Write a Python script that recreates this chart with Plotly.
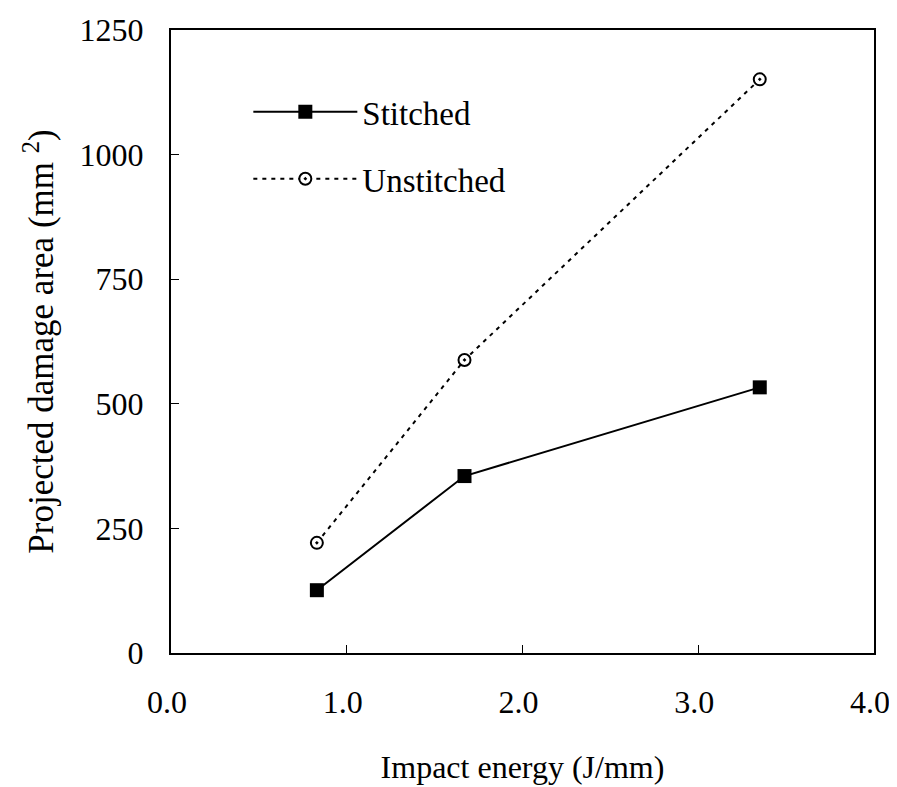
import plotly.graph_objects as go

energy = [0.83, 1.67, 3.35]
stitched = [126, 355, 533]
unstitched = [221, 588, 1151]
x_ticks = [0, 1, 2, 3, 4]
x_tick_labels = ["0.0", "1.0", "2.0", "3.0", "4.0"]
y_ticks = [0, 250, 500, 750, 1000, 1250]

FONT = "Liberation Serif"
FS = 32

fig = go.Figure()
fig.add_trace(go.Scatter(
    x=energy, y=stitched, name="Stitched", mode="lines+markers",
    line=dict(color="black", width=2),
    marker=dict(symbol="square", size=14, color="black"),
    legendgroup="a",
))
fig.add_trace(go.Scatter(
    x=energy, y=unstitched, name="Unstitched", mode="lines+markers",
    line=dict(color="black", width=2, dash="4px,5px"),
    marker=dict(symbol="circle-dot", size=12, color="white",
                line=dict(color="black", width=2)),
    legendgroup="b",
))

fig.update_layout(
    width=889, height=779,
    margin=dict(l=163, r=23, t=22, b=134, autoexpand=False),
    paper_bgcolor="white", plot_bgcolor="white",
    font=dict(family=FONT, size=FS, color="black"),
    showlegend=True,
    legend=dict(x=0.11, y=0.9136, xanchor="left", yanchor="top",
                bgcolor="rgba(0,0,0,0)", font=dict(family=FONT, size=33),
                itemwidth=104, tracegroupgap=21, traceorder="grouped"),
    xaxis=dict(range=[0, 4], tickvals=x_ticks, ticktext=x_tick_labels,
               ticks="inside", ticklen=8, tickwidth=1, tickcolor="black",
               showline=True, linewidth=2, linecolor="black", mirror=True,
               showgrid=False, zeroline=False, ticklabelstandoff=20,
               ticklabelshift=-4,
               ticklabeloverflow="allow", automargin=False,
               tickfont=dict(family=FONT, size=FS),
               title=dict(text="Impact energy (J/mm)", standoff=36,
                          font=dict(family=FONT, size=FS))),
    yaxis=dict(range=[0, 1250], tickvals=y_ticks,
               ticks="inside", ticklen=8, tickwidth=1, tickcolor="black",
               showline=True, linewidth=2, linecolor="black", mirror=True,
               showgrid=False, zeroline=False, ticklabelstandoff=19,
               ticklabeloverflow="allow", automargin=False,
               tickfont=dict(family=FONT, size=FS),
               title=dict(text="Projected damage area (mm <sup>2</sup>)",
                          standoff=15, font=dict(family=FONT, size=35))),
)

fig.write_html("out.html")
